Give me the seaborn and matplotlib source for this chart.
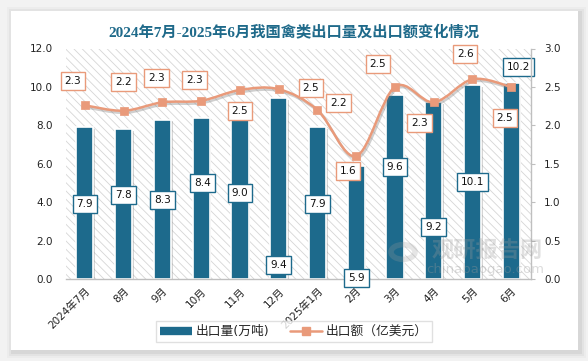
import numpy as np
import pandas as pd
import matplotlib
matplotlib.use("Agg")
import matplotlib.pyplot as plt
import seaborn as sns
from matplotlib.patches import Rectangle, PathPatch, Circle
from matplotlib.path import Path
from matplotlib.lines import Line2D
import matplotlib.patheffects as pe

# ---------------- data ----------------
months = ["2024年7月", "8月", "9月", "10月", "11月", "12月", "2025年1月",
          "2月", "3月", "4月", "5月", "6月"]
volume = [7.9, 7.8, 8.3, 8.4, 9.0, 9.4, 7.9, 5.9, 9.6, 9.2, 10.1, 10.2]      # 万吨
amount = [2.26, 2.19, 2.30, 2.32, 2.46, 2.47, 2.20, 1.60, 2.50, 2.30, 2.60, 2.50]  # 亿美元
left_ticks = [0, 2, 4, 6, 8, 10, 12]
right_ticks = [0, 0.5, 1.0, 1.5, 2.0, 2.5, 3.0]

# label placement (manual, as in the reference)
vol_label_y = [3.93, 4.35, 4.12, 5.02, 4.48, 0.73, 3.91, 0.05, 5.83, 2.72, 5.04, 11.05]
vol_label_dx = [0, 0, 0, 0.04, 0, 0, 0, 0, 0, 0, 0, 0.18]
amt_label_y = [2.575, 2.56, 2.62, 2.59, 2.19, 2.48, 2.29, 1.41, 2.80, 2.03, 2.93, 2.09]
amt_label_dx = [-0.31, 0, -0.16, -0.18, 0, 0.83, 0.54, -0.21, -0.44, -0.36, -0.19, -0.16]

BAR = "#1d6a8c"
LINE = "#e99a7a"
TITLE = "#1f6a8a"

sns.set_theme(style="white")
plt.rcParams["font.family"] = ["DejaVu Sans", "Noto Sans CJK SC"]
plt.rcParams["hatch.linewidth"] = 0.6

W, H = 588, 361
fig = plt.figure(figsize=(W / 100, H / 100), dpi=100)
fig.patch.set_facecolor("#f2f2f2")

def px(x0, y0, x1, y1):
    return [x0 / W, 1 - y1 / H, (x1 - x0) / W, (y1 - y0) / H]

# card shadow + card
for k, a in [(6, 0.025), (4, 0.035), (2, 0.05)]:
    b = px(11 - k + 2, 11 - k + 2, 578 + k + 2, 350 + k + 2)
    fig.patches.append(Rectangle((b[0], b[1]), b[2], b[3], transform=fig.transFigure,
                                 facecolor="black", alpha=a, edgecolor="none", zorder=-3))
b = px(11, 11, 578, 350)
fig.patches.append(Rectangle((b[0], b[1]), b[2], b[3], transform=fig.transFigure,
                             facecolor="white", edgecolor="none", zorder=-2))

ax = fig.add_axes(px(65.6, 48.5, 530.6, 279))
ax.set_facecolor("none")
ax.add_patch(Rectangle((0, 0), 1, 1, transform=ax.transAxes, facecolor="white",
                       edgecolor="#d6d6d6", hatch="\\\\\\\\", linewidth=0, zorder=0))

df = pd.DataFrame({"month": months, "volume": volume})
sns.barplot(data=df, x="month", y="volume", ax=ax, color=BAR, width=0.44,
            edgecolor="white", linewidth=1.2, saturation=1, zorder=2)
for p in ax.patches[1:]:
    p.set_path_effects([pe.SimplePatchShadow(offset=(1.2, -1.2), shadow_rgbFace="#888888", alpha=0.35),
                        pe.Normal()])

ax.set_xlim(-0.5, len(months) - 0.5)
ax.set_ylim(0, 12)
ax.set_yticks(left_ticks)
ax.set_yticklabels([f"{t:.1f}" for t in left_ticks], fontsize=7.5, color="#222222")
ax.tick_params(axis="y", length=0, pad=9.4)
ax.set_xticks(range(len(months)))
ax.set_xticklabels(months, rotation=45, ha="right", rotation_mode="anchor",
                   fontsize=7.5, color="#222222")
ax.tick_params(axis="x", length=0, pad=5)
ax.set_xlabel("")
ax.set_ylabel("")
for s in ["left", "top", "right"]:
    ax.spines[s].set_visible(False)
ax.spines["bottom"].set_color("#bfbfbf")
ax.spines["bottom"].set_linewidth(1.0)

for i, (v, y, dx) in enumerate(zip(volume, vol_label_y, vol_label_dx)):
    ax.text(i + dx, y, f"{v:.1f}", ha="center", va="center", fontsize=7.6, color="#111111",
            zorder=5, bbox=dict(boxstyle="square,pad=0.38", fc="white", ec=BAR, lw=1.0))

# secondary axis for export amount
ax2 = ax.twinx()
ax2.set_ylim(0, 3)
ax2.set_xlim(-0.5, len(months) - 0.5)
xs = np.arange(len(amount), dtype=float)
ys = np.asarray(amount, dtype=float)
# smooth (Catmull-Rom -> Bezier) rendering through the data points
verts = [(xs[0], ys[0])]
codes = [Path.MOVETO]
n = len(xs)
for i in range(n - 1):
    p0 = np.array([xs[max(i - 1, 0)], ys[max(i - 1, 0)]])
    p1 = np.array([xs[i], ys[i]])
    p2 = np.array([xs[i + 1], ys[i + 1]])
    p3 = np.array([xs[min(i + 2, n - 1)], ys[min(i + 2, n - 1)]])
    c1 = p1 + (p2 - p0) / 6
    c2 = p2 - (p3 - p1) / 6
    verts += [tuple(c1), tuple(c2), tuple(p2)]
    codes += [Path.CURVE4] * 3
curve = PathPatch(Path(verts, codes), facecolor="none", edgecolor=LINE, lw=1.8, zorder=3,
                  path_effects=[pe.SimpleLineShadow(offset=(1, -1.5), shadow_color="#777777", alpha=0.35),
                                pe.Normal()])
ax2.add_patch(curve)
sns.scatterplot(x=xs, y=ys, ax=ax2, marker="s", s=34, color=LINE, edgecolor=LINE,
                linewidth=0.5, zorder=4, legend=False)
ax2.set_yticks(right_ticks)
ax2.set_yticklabels([f"{t:.1f}" for t in right_ticks], fontsize=7.5, color="#222222")
ax2.tick_params(axis="y", length=3, width=0.8, color="#bfbfbf", pad=6.8, right=True)
ax2.set_ylabel("")
for s in ["left", "top", "bottom"]:
    ax2.spines[s].set_visible(False)
ax2.spines["right"].set_color("#bfbfbf")
ax2.spines["right"].set_linewidth(1.0)

for i, (v, y, dx) in enumerate(zip(amount, amt_label_y, amt_label_dx)):
    ax2.text(i + dx, y, f"{v:.1f}", ha="center", va="center", fontsize=7.6, color="#111111",
             zorder=6, bbox=dict(boxstyle="square,pad=0.38", fc="white", ec=LINE, lw=1.0))

# watermark
fig.patches.append(Circle((403 / W, 1 - 252 / H), 12 / W, transform=fig.transFigure,
                          facecolor="none", edgecolor="#9a9a9a", lw=4, alpha=0.25, zorder=10))
fig.text(487 / W, 1 - 251 / H, "观研报告网", ha="center", va="center", fontsize=16,
         fontweight="bold", color="#9a9a9a", alpha=0.3, family=["Noto Sans CJK SC"], zorder=10)
fig.text(485 / W, 1 - 270 / H, "chinabaogao.com", ha="center", va="center", fontsize=9.5,
         color="#9a9a9a", alpha=0.35, zorder=10)

# title
fig.text(294 / W, 1 - 31.5 / H, "2024年7月-2025年6月我国禽类出口量及出口额变化情况",
         ha="center", va="center", fontsize=11, fontweight="bold", color=TITLE,
         family=["Liberation Serif", "Noto Sans CJK SC"])

# legend
handles = [Line2D([0], [0], color=BAR, lw=6, solid_capstyle="butt"),
           Line2D([0], [0], color=LINE, lw=1.8, marker="s", markersize=5.5)]
leg = fig.legend(handles, ["出口量(万吨)", "出口额（亿美元）"], loc="center",
                 bbox_to_anchor=(294 / W, 1 - 331.5 / H), ncol=2, frameon=True,
                 fancybox=False, edgecolor="#d9d9d9", handlelength=2.5,
                 columnspacing=1.6, handletextpad=0.3, borderpad=0.3,
                 prop={"family": ["DejaVu Sans", "Noto Sans CJK SC"], "size": 9.2})
leg.get_frame().set_linewidth(1.0)

fig.savefig("out.png", dpi=100, facecolor=fig.get_facecolor())
